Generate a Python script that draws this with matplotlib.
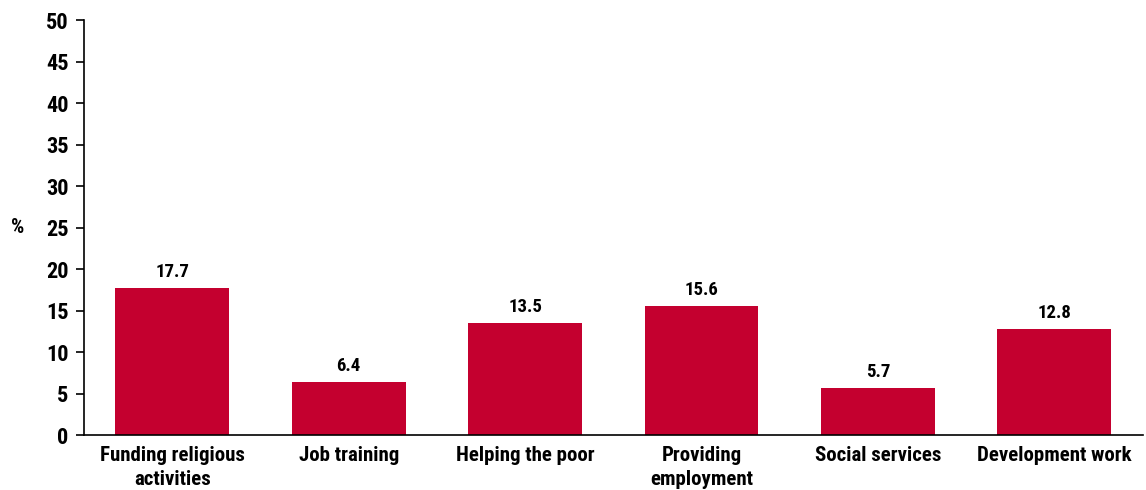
import matplotlib
matplotlib.use('Agg')
import matplotlib.pyplot as plt

# data
categories = ['Funding religious\nactivities', 'Job training', 'Helping the poor',
              'Providing\nemployment', 'Social services', 'Development work']
values = [17.7, 6.4, 13.5, 15.6, 5.7, 12.8]
yticks = list(range(0, 51, 5))

bar_color = '#C4002F'
plt.rcParams['font.family'] = ['Roboto Condensed', 'Liberation Sans Narrow', 'Arial Narrow',
                               'Roboto', 'DejaVu Sans']
plt.rcParams['font.weight'] = 'bold'

fig = plt.figure(figsize=(11.46, 4.9), dpi=100)
ax = fig.add_axes([0.0733, 0.1122, 0.9237, 0.8468])

x = list(range(len(categories)))
ax.bar(x, values, width=0.645, color=bar_color, zorder=2)

for xi, v in zip(x, values):
    ax.annotate(f'{v:.1f}', (xi, v), xytext=(0, 5), textcoords='offset points',
                ha='center', va='bottom', fontsize=13.5, fontweight='bold')

ax.set_xlim(-0.5, len(categories) - 0.5)
ax.set_ylim(0, 50)
ax.set_yticks(yticks)
ax.set_yticklabels([str(t) for t in yticks], fontsize=16, fontweight='bold')
ax.set_xticks(x)
ax.set_xticklabels(categories, fontsize=15, fontweight='bold', linespacing=1.3)
ax.tick_params(axis='x', length=0, pad=8)
ax.tick_params(axis='y', length=6, width=1.2, direction='out', pad=5)

ax.spines['top'].set_visible(False)
ax.spines['right'].set_visible(False)
ax.spines['left'].set_linewidth(1.2)
ax.spines['bottom'].set_linewidth(1.2)

ax.set_ylabel('%', rotation=0, fontsize=15, fontweight='bold', va='center')
ax.yaxis.set_label_coords(-0.063, 0.5)

fig.savefig('out.png', dpi=100)
